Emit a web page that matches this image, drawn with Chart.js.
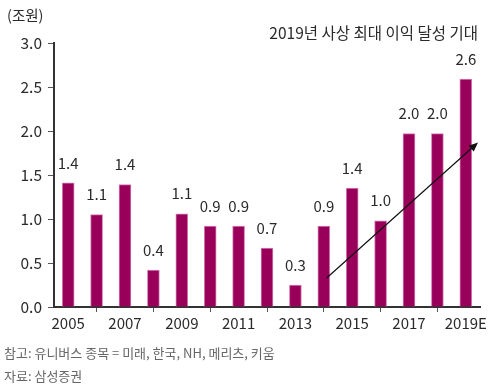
<!DOCTYPE html>
<html>
<head>
<meta charset="utf-8">
<script src="https://cdn.jsdelivr.net/npm/chart.js@4.4.1/dist/chart.umd.min.js"></script>
<style>
  html, body { margin: 0; padding: 0; background: #fff; }
  #wrap { position: relative; width: 500px; height: 387px; font-family: 'Noto Sans CJK KR', 'Noto Sans', sans-serif; }
  #grafico { position: absolute; left: 0; top: 0; }
  .txt { position: absolute; white-space: nowrap; color: #2a2a2a; }
  #unidade { left: 7px; top: 4px; font-size: 14.5px; }
  #titulo { right: 22px; top: 21px; font-size: 15.5px; }
  .nota { left: 4px; font-size: 13px; color: #666; }
</style>
</head>
<body>
<div id="wrap">
  <canvas id="grafico" width="500" height="387"></canvas>
  <div class="txt" id="unidade">(조원)</div>
  <div class="txt" id="titulo">2019년 사상 최대 이익 달성 기대</div>
  <div class="txt nota" style="top:343px">참고: 유니버스 종목 = 미래, 한국, NH, 메리츠, 키움</div>
  <div class="txt nota" style="top:366px">자료: 삼성증권</div>
</div>
<script>
// dados do gráfico
const anos = ['2005', '2006', '2007', '2008', '2009', '2010', '2011', '2012', '2013', '2014', '2015', '2016', '2017', '2018', '2019E'];
const lucros = [1.41, 1.05, 1.39, 0.42, 1.06, 0.92, 0.92, 0.67, 0.25, 0.92, 1.35, 0.98, 1.97, 1.97, 2.59];
const rotulos = ['1.4', '1.1', '1.4', '0.4', '1.1', '0.9', '0.9', '0.7', '0.3', '0.9', '1.4', '1.0', '2.0', '2.0', '2.6'];
const ticksY = [0, 0.5, 1.0, 1.5, 2.0, 2.5, 3.0];
// seta de tendência (em unidades de categoria / valor)
const setaInicio = [9.1, 0.33];
const setaFim = [14.43, 1.87];

const fonte = "'Noto Sans CJK KR', 'Noto Sans', sans-serif";

// rótulos de valor acima das barras
const pluginRotulos = {
  id: 'rotulos',
  afterDatasetsDraw(chart) {
    const ctx = chart.ctx;
    const meta = chart.getDatasetMeta(0);
    ctx.save();
    ctx.font = '15px ' + fonte;
    ctx.fillStyle = '#2a2a2a';
    ctx.textAlign = 'center';
    ctx.textBaseline = 'middle';
    meta.data.forEach((bar, i) => {
      ctx.fillText(rotulos[i], bar.x, bar.y - 20);
    });
    ctx.restore();
  }
};

// seta
const pluginSeta = {
  id: 'seta',
  afterDatasetsDraw(chart) {
    const ctx = chart.ctx;
    const x = chart.scales.x, y = chart.scales.y;
    const px = v => x.getPixelForValue(0) + v * (x.getPixelForValue(1) - x.getPixelForValue(0));
    const x1 = px(setaInicio[0]), y1 = y.getPixelForValue(setaInicio[1]);
    const x2 = px(setaFim[0]), y2 = y.getPixelForValue(setaFim[1]);
    const ang = Math.atan2(y2 - y1, x2 - x1);
    ctx.save();
    ctx.strokeStyle = '#111';
    ctx.fillStyle = '#111';
    ctx.lineWidth = 1.2;
    ctx.beginPath();
    ctx.moveTo(x1, y1);
    ctx.lineTo(x2 - 6 * Math.cos(ang), y2 - 6 * Math.sin(ang));
    ctx.stroke();
    ctx.beginPath();
    ctx.moveTo(x2, y2);
    ctx.lineTo(x2 - 10 * Math.cos(ang - 0.4), y2 - 10 * Math.sin(ang - 0.4));
    ctx.lineTo(x2 - 10 * Math.cos(ang + 0.4), y2 - 10 * Math.sin(ang + 0.4));
    ctx.closePath();
    ctx.fill();
    ctx.restore();
  }
};

const ctxGrafico = document.getElementById('grafico').getContext('2d');
const grafico = new Chart(ctxGrafico, {
  type: 'bar',
  data: {
    labels: anos,
    datasets: [{
      data: lucros,
      backgroundColor: '#99005a',
      borderColor: '#d680b8',
      borderWidth: 1,
      borderSkipped: 'bottom',
      barThickness: 12
    }]
  },
  options: {
    responsive: false,
    animation: false,
    events: [],
    layout: { padding: { left: 0, right: 20, top: 43, bottom: 50 } },
    plugins: { legend: { display: false }, tooltip: { enabled: false } },
    scales: {
      x: {
        afterFit: s => { s.height = 30; },
        border: { color: '#333', width: 2 },
        grid: { drawOnChartArea: false, color: '#555', tickLength: 5, offset: true },
        ticks: {
          autoSkip: false,
          maxRotation: 0,
          padding: 2,
          color: '#2a2a2a',
          font: { family: fonte, size: 15 },
          callback: (v, i) => (i % 2 === 0 ? anos[i] : null)
        }
      },
      y: {
        min: 0,
        max: 3,
        afterFit: s => { s.width = 54; },
        afterBuildTicks: s => { s.ticks = ticksY.map(v => ({ value: v })); },
        border: { color: '#333', width: 2 },
        grid: { drawOnChartArea: false, color: '#555', tickLength: 6 },
        ticks: {
          padding: 6,
          color: '#2a2a2a',
          font: { family: fonte, size: 15.5 },
          callback: v => v.toFixed(1)
        }
      }
    }
  },
  plugins: [pluginRotulos, pluginSeta]
});
</script>
</body>
</html>
